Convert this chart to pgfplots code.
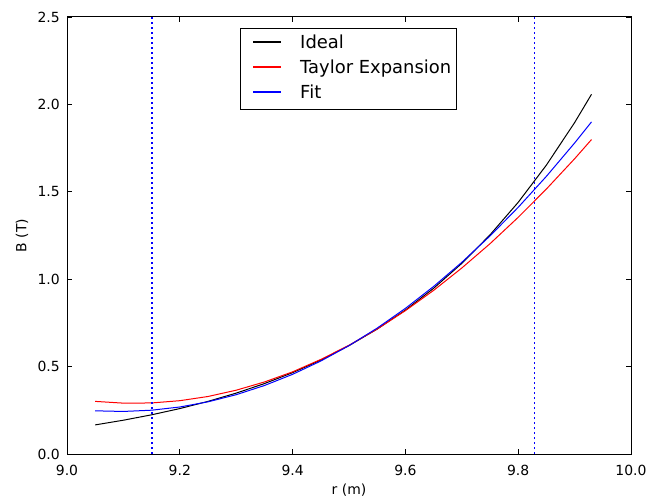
\documentclass[border=0pt]{standalone}
\usepackage{pgfplots}
\pgfplotsset{compat=1.18}
\usepackage{fontspec}
\setmainfont{DejaVu Sans}
\definecolor{mred}{rgb}{1,0,0}
\definecolor{mblue}{rgb}{0,0,1}
\begin{document}
\begin{tikzpicture}
\begin{axis}[
  scale only axis, width=564bp, height=437bp,
  xmin=9.0, xmax=10.0, ymin=0, ymax=2.5,
  xtick={9,9.2,9.4,9.6,9.8,10},
  ytick={0,0.5,1,1.5,2,2.5},
  tick align=inside, major tick length=5bp,
  tick style={black, line width=0.8bp},
  axis line style={black, line width=1bp},
  /pgf/number format/assume math mode=true,
  xticklabel={\pgfmathprintnumber[fixed,fixed zerofill,precision=1]{\tick}},
  yticklabel={\pgfmathprintnumber[fixed,fixed zerofill,precision=1]{\tick}},
  xticklabel style={font=\fontsize{14}{16}\selectfont, anchor=center, yshift=-16bp, inner sep=0pt},
  yticklabel style={font=\fontsize{14}{16}\selectfont, anchor=east, xshift=-7bp, inner sep=0pt},
  xlabel={r (m)}, ylabel={B (T)},
  every axis x label/.style={at={(axis description cs:0.5,-0.0824)}, anchor=center, font=\fontsize{14}{16}\selectfont},
  every axis y label/.style={at={(axis description cs:-0.0798,0.5)}, anchor=center, rotate=90, font=\fontsize{14}{16}\selectfont},
  legend style={at={(axis description cs:0.30762,0.974828)}, anchor=north west,
    draw=black, line width=1bp, inner xsep=5bp, inner ysep=5bp,
    font=\fontsize{18}{20}\selectfont, row sep=4bp,
    nodes={inner sep=0pt, text height=15bp, text depth=6bp}},
  legend cell align=left,
  legend image code/.code={\path (0bp,0bp); \draw[#1, line width=1.5bp] (7bp,2bp) -- (35bp,2bp);},
  /tikz/every odd column/.append style={column sep=18bp},
]
\addplot[black, line width=1bp] coordinates {
(9.05,0.1665) (9.10,0.1933) (9.15,0.2242) (9.20,0.2599) (9.25,0.3010)
(9.30,0.3483) (9.35,0.4028) (9.40,0.4654) (9.45,0.5374) (9.50,0.6200)
(9.55,0.7148) (9.60,0.8234) (9.65,0.9479) (9.70,1.0905) (9.75,1.2535)
(9.80,1.4398) (9.85,1.6528) (9.90,1.8958) (9.93,2.0578)};
\addlegendentry{Ideal}
\addplot[mred, line width=1bp] coordinates {
(9.05,0.301) (9.10,0.291) (9.15,0.292) (9.20,0.305) (9.25,0.329)
(9.30,0.365) (9.35,0.412) (9.40,0.470) (9.45,0.541) (9.50,0.622)
(9.55,0.715) (9.60,0.820) (9.65,0.936) (9.70,1.064) (9.75,1.203)
(9.80,1.354) (9.85,1.516) (9.90,1.689) (9.93,1.799)};
\addlegendentry{Taylor Expansion}
\addplot[mblue, line width=1bp] coordinates {
(9.05,0.2470) (9.10,0.2434) (9.15,0.2506) (9.20,0.2689) (9.25,0.2984)
(9.30,0.3393) (9.35,0.3917) (9.40,0.4558) (9.45,0.5319) (9.50,0.6200)
(9.55,0.7203) (9.60,0.8331) (9.65,0.9584) (9.70,1.0964) (9.75,1.2473)
(9.80,1.4113) (9.85,1.5885) (9.90,1.7791) (9.93,1.9000)};
\addlegendentry{Fit}
\addplot[mblue, line width=1.4bp, dash pattern=on 1.8bp off 3.2bp, forget plot] coordinates {(9.1507,0) (9.1507,2.5)};
\addplot[mblue, line width=1.4bp, dash pattern=on 1.8bp off 3.2bp, forget plot] coordinates {(9.8289,0) (9.8289,2.5)};
\end{axis}
\pgfresetboundingbox
\path[use as bounding box] (current axis.south west) ++(-67bp,-46bp) rectangle ++(671bp,500bp);
\end{tikzpicture}
\end{document}
